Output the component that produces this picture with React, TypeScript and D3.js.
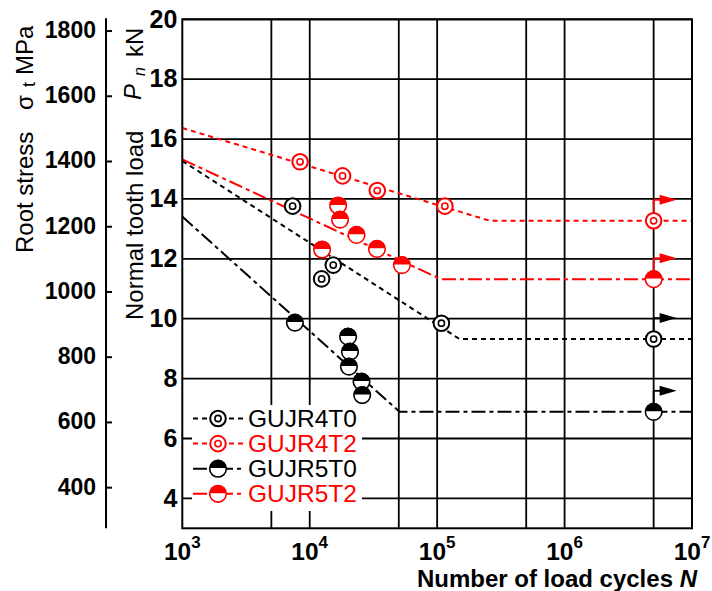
import * as d3 from "d3";

const FONT = "'Liberation Sans', Arial, Helvetica, sans-serif";
const RED = "#ff0000";
const BLACK = "#000000";

// axis ticks
const loadTicks = [4, 6, 8, 10, 12, 14, 16, 18, 20];
const stressTicks = [400, 600, 800, 1000, 1200, 1400, 1600, 1800];
const cycleTicks = [1e3, 1e4, 1e5, 1e6, 1e7];
const cycleGrid = [5e3, 1e4, 5e4, 1e5, 5e5, 1e6, 5e6];
const stressPerKN = 91.8; // root stress per kN of normal tooth load

// GUJR4T0
const gujr4t0Cycles = [7340, 12400, 15300, 108000];
const gujr4t0Load = [13.76, 11.33, 11.79, 9.85];
const gujr4t0CurveCycles = [1e3, 1.5e5, 1e7];
const gujr4t0CurveLoad = [15.27, 9.32, 9.32];
const gujr4t0Runout = { cycles: 5e6, load: 9.32 };

// GUJR4T2
const gujr4t2Cycles = [8400, 18100, 33900, 115000];
const gujr4t2Load = [15.24, 14.77, 14.28, 13.76];
const gujr4t2CurveCycles = [1e3, 2.6e5, 1e7];
const gujr4t2CurveLoad = [16.37, 13.27, 13.27];
const gujr4t2Runout = { cycles: 5e6, load: 13.27 };

// GUJR5T0
const gujr5t0Cycles = [7650, 20000, 20700, 20300, 25500, 25800];
const gujr5t0Load = [9.87, 9.4, 8.9, 8.4, 7.9, 7.45];
const gujr5t0CurveCycles = [1e3, 5.07e4, 1e7];
const gujr5t0CurveLoad = [13.41, 6.89, 6.89];
const gujr5t0Runout = { cycles: 5e6, load: 6.89 };

// GUJR5T2
const gujr5t2Cycles = [12500, 16700, 17300, 23300, 33700, 52900];
const gujr5t2Load = [12.31, 13.78, 13.31, 12.8, 12.33, 11.79];
const gujr5t2CurveCycles = [1e3, 1.07e5, 1e7];
const gujr5t2CurveLoad = [15.32, 11.32, 11.32];
const gujr5t2Runout = { cycles: 5e6, load: 11.32 };

type Kind = "ring" | "half";
interface Series {
  name: string;
  color: string;
  kind: Kind;
  dash: string;
  cycles: number[];
  load: number[];
  curveCycles: number[];
  curveLoad: number[];
  runout: { cycles: number; load: number };
}

const series: Series[] = [
  { name: "GUJR4T0", color: BLACK, kind: "ring", dash: "5,4", cycles: gujr4t0Cycles, load: gujr4t0Load, curveCycles: gujr4t0CurveCycles, curveLoad: gujr4t0CurveLoad, runout: gujr4t0Runout },
  { name: "GUJR4T2", color: RED, kind: "ring", dash: "5,4", cycles: gujr4t2Cycles, load: gujr4t2Load, curveCycles: gujr4t2CurveCycles, curveLoad: gujr4t2CurveLoad, runout: gujr4t2Runout },
  { name: "GUJR5T0", color: BLACK, kind: "half", dash: "14,4,4,4", cycles: gujr5t0Cycles, load: gujr5t0Load, curveCycles: gujr5t0CurveCycles, curveLoad: gujr5t0CurveLoad, runout: gujr5t0Runout },
  { name: "GUJR5T2", color: RED, kind: "half", dash: "14,4,4,4", cycles: gujr5t2Cycles, load: gujr5t2Load, curveCycles: gujr5t2CurveCycles, curveLoad: gujr5t2CurveLoad, runout: gujr5t2Runout },
];

const left = 182.3, right = 692, top = 19.3, bottom = 528.3;

const x = d3.scaleLog().domain([1e3, 1e7]).range([left, right]);
const y = d3.scaleLinear().domain([3, 20]).range([bottom, top]);
const ys = d3.scaleLinear().domain([3 * stressPerKN, 20 * stressPerKN]).range([bottom, top]);

const Marker = ({ kind, color, cx, cy }: { kind: Kind; color: string; cx: number; cy: number }) => {
  if (kind === "ring") {
    return (
      <g>
        <circle cx={cx} cy={cy} r={7.8} fill="white" stroke={color} strokeWidth={2} />
        <circle cx={cx} cy={cy} r={3.1} fill="none" stroke={color} strokeWidth={1.6} />
      </g>
    );
  }
  const r = 8.3;
  return (
    <g>
      <circle cx={cx} cy={cy} r={r} fill="white" stroke={color} strokeWidth={1.6} />
      <path d={`M${cx - r},${cy - 0.6}A${r},${r} 0 0 1 ${cx + r},${cy - 0.6}Z`} fill={color} />
    </g>
  );
};

const Runout = ({ s }: { s: Series }) => {
  const cx = x(s.runout.cycles);
  const cy = y(s.runout.load);
  const ay = cy - 21;
  return (
    <g>
      <line x1={cx} x2={cx} y1={cy} y2={ay} stroke={s.color} strokeWidth={1.8} />
      <line x1={cx} x2={cx + 8} y1={ay} y2={ay} stroke={s.color} strokeWidth={1.8} />
      <path d={`M${cx + 6},${ay - 5}L${cx + 23},${ay}L${cx + 6},${ay + 5}Z`} fill={s.color} />
    </g>
  );
};

export default function App() {
  const curve = d3
    .line<[number, number]>()
    .x((d) => x(d[0]))
    .y((d) => y(d[1]));

  const legendX = 193;
  const legendY = 418.5;
  const legendStep = 25.1;

  return (
    <svg
      width={712}
      height={591}
      style={{ position: "absolute", left: 0, top: 0, background: "white" }}
      fontFamily={FONT}
    >
      <rect width={712} height={591} fill="white" />

      {/* grid */}
      <g stroke={BLACK} strokeWidth={1.8}>
        {cycleGrid.map((c) => (
          <line key={c} x1={x(c)} x2={x(c)} y1={top} y2={bottom} />
        ))}
        {loadTicks.map((p) => (
          <line key={p} x1={left} x2={right} y1={y(p)} y2={y(p)} />
        ))}
      </g>

      {/* legend background */}
      <rect x={192} y={405} width={170} height={106} fill="white" />

      {/* fitted curves */}
      {series.map((s) => (
        <path
          key={s.name}
          d={curve(s.curveCycles.map((c, i) => [c, s.curveLoad[i]]) as [number, number][]) || ""}
          fill="none"
          stroke={s.color}
          strokeWidth={2}
          strokeDasharray={s.dash}
        />
      ))}

      {/* run-outs */}
      {series.map((s) => (
        <Runout key={s.name} s={s} />
      ))}

      {/* points */}
      {series.map((s) => (
        <g key={s.name}>
          {s.cycles.map((c, i) => (
            <Marker key={i} kind={s.kind} color={s.color} cx={x(c)} cy={y(s.load[i])} />
          ))}
          <Marker kind={s.kind} color={s.color} cx={x(s.runout.cycles)} cy={y(s.runout.load)} />
        </g>
      ))}

      {/* frame */}
      <rect x={left} y={top} width={right - left} height={bottom - top} fill="none" stroke={BLACK} strokeWidth={2} />

      {/* load axis labels */}
      <g fontSize={25} fontWeight="bold" textAnchor="end">
        {loadTicks.map((p) => (
          <text key={p} x={left - 5} y={y(p)} dy="0.33em">
            {p}
          </text>
        ))}
      </g>

      {/* stress axis */}
      <line x1={106} x2={106} y1={top - 1} y2={bottom} stroke={BLACK} strokeWidth={2} />
      <g stroke={BLACK} strokeWidth={2}>
        {stressTicks.map((s) => (
          <line key={s} x1={106} x2={112} y1={ys(s)} y2={ys(s)} />
        ))}
      </g>
      <g fontSize={23} fontWeight="bold" textAnchor="end">
        {stressTicks.map((s) => (
          <text key={s} x={96} y={ys(s)} dy="0.3em">
            {s}
          </text>
        ))}
      </g>

      {/* cycle axis labels */}
      <g fontWeight="bold" textAnchor="middle">
        {cycleTicks.map((c) => (
          <text key={c} x={x(c)} y={560} fontSize={24.5}>
            10
            <tspan fontSize={17} dy={-12}>
              {Math.round(Math.log10(c))}
            </tspan>
          </text>
        ))}
      </g>
      <text x={697} y={587} fontSize={24} fontWeight="bold" textAnchor="end">
        Number of load cycles <tspan fontStyle="italic">N</tspan>
      </text>

      {/* rotated titles */}
      <g fontSize={24}>
        <text transform="translate(33,253) rotate(-90)">Root stress</text>
        <text transform="translate(33,110) rotate(-90)">σ</text>
        <text transform="translate(35,87) rotate(-90)" fontSize={18}>t</text>
        <text transform="translate(33,75) rotate(-90)">MPa</text>

        <text transform="translate(143,320) rotate(-90)">Normal tooth load</text>
        <text transform="translate(141,100) rotate(-90)" fontStyle="italic">P</text>
        <text transform="translate(145,76) rotate(-90)" fontStyle="italic" fontSize={16}>n</text>
        <text transform="translate(143,57) rotate(-90)">kN</text>
      </g>

      {/* legend */}
      {series.map((s, i) => {
        const cy = legendY + i * legendStep;
        return (
          <g key={s.name}>
            <line x1={legendX} x2={legendX + 50} y1={cy} y2={cy} stroke={s.color} strokeWidth={2} strokeDasharray={s.dash} />
            <Marker kind={s.kind} color={s.color} cx={legendX + 25} cy={cy} />
            <text x={legendX + 55} y={cy} dy="0.35em" fontSize={24.5} fill={s.color}>
              {s.name}
            </text>
          </g>
        );
      })}
    </svg>
  );
}
